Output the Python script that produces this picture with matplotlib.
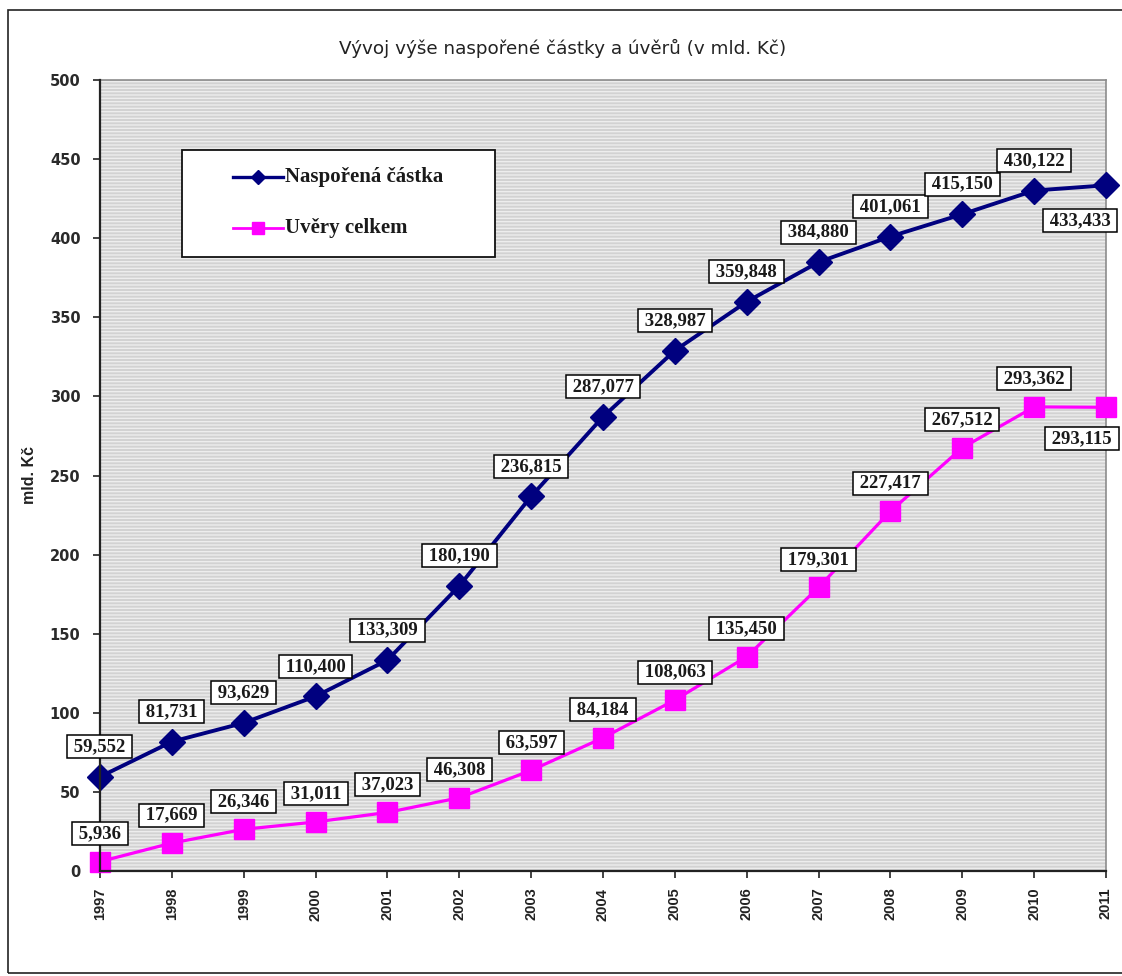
import matplotlib
matplotlib.use("Agg")
import matplotlib.pyplot as plt
from matplotlib.patches import Rectangle
from matplotlib.lines import Line2D

years = [1997, 1998, 1999, 2000, 2001, 2002, 2003, 2004, 2005, 2006, 2007, 2008, 2009, 2010, 2011]
saved = [59.552, 81.731, 93.629, 110.400, 133.309, 180.190, 236.815, 287.077,
         328.987, 359.848, 384.880, 401.061, 415.150, 430.122, 433.433]
loans = [5.936, 17.669, 26.346, 31.011, 37.023, 46.308, 63.597, 84.184,
         108.063, 135.450, 179.301, 227.417, 267.512, 293.362, 293.115]
series_names = ["Naspořená částka", "Uvěry celkem"]
title = "Vývoj výše naspořené částky a úvěrů (v mld. Kč)"
y_label = "mld. Kč"
y_ticks = list(range(0, 501, 50))

plt.rcParams["hatch.linewidth"] = 1.0
plt.rcParams["hatch.color"] = "#ededed"

fig = plt.figure(figsize=(11.22, 9.76), dpi=100)
fig.patch.set_facecolor("white")

# outer chart frame
fig.add_artist(Rectangle((8 / 1122, 3 / 976), 1.2, 963 / 976, transform=fig.transFigure,
                         fill=False, edgecolor="#222222", linewidth=1.2))

ax = fig.add_axes([100 / 1122, 105 / 976, 1006 / 1122, 791 / 976])
ax.set_facecolor("#d2d2d2")
ax.add_patch(Rectangle((0, 0), 1, 1, transform=ax.transAxes, facecolor="#d2d2d2",
                       hatch="-----", edgecolor="#ededed", linewidth=0, zorder=0))

navy = "#00007f"
pink = "#ff00ff"
ax.plot(years, saved, color=navy, lw=2.8, marker="D", ms=13, mfc=navy, mec=navy,
        clip_on=False, zorder=3)
ax.plot(years, loans, color=pink, lw=2.3, marker="s", ms=14, mfc=pink, mec=pink,
        clip_on=False, zorder=3)

box = dict(boxstyle="square,pad=0.16", facecolor="white", edgecolor="black", linewidth=1.1)
label_font = dict(family="Liberation Serif", fontweight="bold", fontsize=13.5, color="#1a1a1a")


def fmt(v):
    return "\u2009" + f"{v:.3f}".replace(".", ",") + "\u2009"


for i, (x, v) in enumerate(zip(years, saved)):
    off = (-26, -35) if i == len(years) - 1 else (0, 30)
    ax.annotate(fmt(v), (x, v), xytext=off, textcoords="offset pixels",
                ha="center", va="center", bbox=box, zorder=5, annotation_clip=False, **label_font)
for i, (x, v) in enumerate(zip(years, loans)):
    off = (-24, -31) if i == len(years) - 1 else (0, 28)
    ax.annotate(fmt(v), (x, v), xytext=off, textcoords="offset pixels",
                ha="center", va="center", bbox=box, zorder=5, annotation_clip=False, **label_font)

ax.set_xlim(years[0], years[-1])
ax.set_ylim(0, 500)
ax.set_xticks(years)
ax.set_xticklabels([str(y) for y in years], rotation=90, fontweight="bold",
                   fontsize=10.5, family="Liberation Sans", color="#222222")
ax.set_yticks(y_ticks)
ax.set_yticklabels([str(t) for t in y_ticks], fontweight="bold", fontsize=10.5,
                   family="DejaVu Sans", color="#2a2a2a")
ax.tick_params(direction="out", length=5, width=1.2, color="#222222")
ax.tick_params(axis="y", pad=9)
ax.tick_params(axis="x", pad=7)
for s in ("left", "bottom"):
    ax.spines[s].set_color("#222222")
    ax.spines[s].set_linewidth(1.6)
    ax.spines[s].set_zorder(4)
for s in ("top", "right"):
    ax.spines[s].set_color("#8c8c8c")
    ax.spines[s].set_linewidth(1.2)

ax.set_ylabel(y_label, fontweight="bold", fontsize=11.5, family="Liberation Sans", color="#222222")
ax.yaxis.set_label_coords(-0.0626, 0.5)

fig.text(563 / 1122, 1 - 48 / 976, title, ha="center", va="center",
         fontsize=13.2, family="DejaVu Sans", color="#222222")

# legend box drawn in axes fraction coordinates
ax.add_patch(Rectangle((0.0815, 0.7762), 0.3111, 0.1353, transform=ax.transAxes,
                       facecolor="white", edgecolor="#111111", linewidth=1.3, zorder=6))
legend_rows = [(0.8774, navy, "D", 7, 2.4), (0.8129, pink, "s", 9, 2.0)]
for (yy, col, mk, msz, lw), name in zip(legend_rows, series_names):
    ax.add_line(Line2D([0.1322, 0.1819], [yy, yy], transform=ax.transAxes, color=col, lw=lw,
                       zorder=7))
    ax.add_line(Line2D([0.1571], [yy], transform=ax.transAxes, marker=mk, ms=msz, color=col,
                       mfc=col, mec=col, lw=0, zorder=7))
    ax.text(0.1839, yy, name, transform=ax.transAxes, ha="left", va="center", zorder=7,
            family="Liberation Serif", fontweight="bold", fontsize=15, color="#1a1a1a")

fig.savefig("out.png", dpi=100)
